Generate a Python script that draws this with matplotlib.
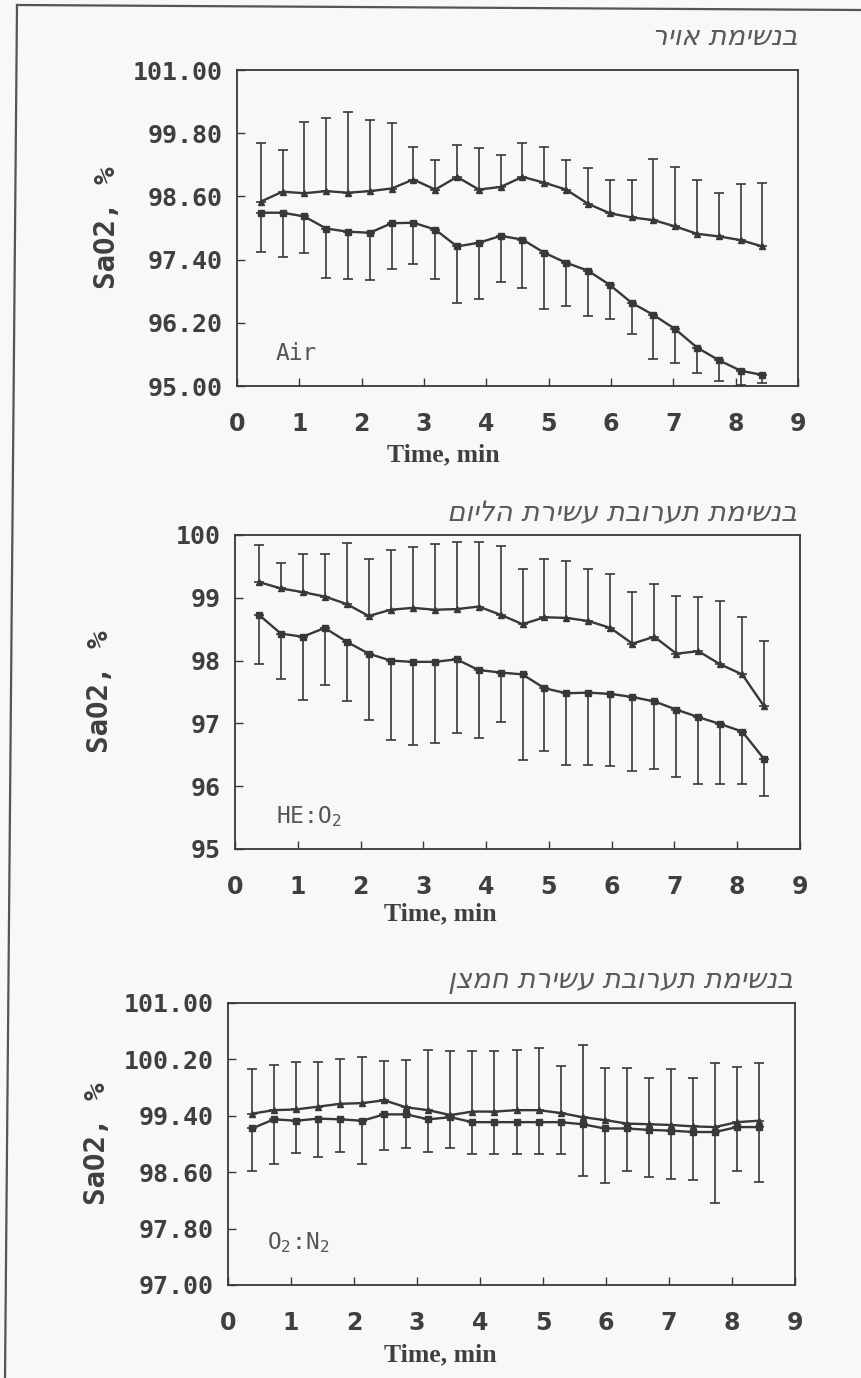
import numpy as np
import matplotlib
matplotlib.use("Agg")
import matplotlib.pyplot as plt
from matplotlib.lines import Line2D

# pedici nelle etichette dei gas con lo stesso carattere monospazio
plt.rcParams.update({"mathtext.fontset": "custom",
                     "mathtext.rm": "DejaVu Sans Mono",
                     "mathtext.it": "DejaVu Sans Mono"})

# Tempi di misura (min), 24 punti per pannello
time_min = [0.38, 0.73, 1.08, 1.43, 1.78, 2.13, 2.48, 2.83, 3.18, 3.53, 3.88, 4.23,
            4.58, 4.93, 5.28, 5.63, 5.98, 6.33, 6.68, 7.03, 7.38, 7.73, 8.08, 8.43]

# --- Pannello 1: Air ---
air_upper = [98.50, 98.69, 98.66, 98.70, 98.67, 98.70, 98.75, 98.92, 98.73, 98.97, 98.73, 98.78,
             98.97, 98.86, 98.73, 98.46, 98.28, 98.20, 98.15, 98.03, 97.89, 97.84, 97.77, 97.65]
air_upper_sd = [1.11, 0.79, 1.36, 1.38, 1.54, 1.36, 1.24, 0.62, 0.57, 0.61, 0.78, 0.61,
                0.64, 0.67, 0.57, 0.67, 0.64, 0.72, 1.16, 1.13, 1.03, 0.83, 1.06, 1.20]
air_lower = [98.29, 98.29, 98.22, 97.99, 97.93, 97.91, 98.09, 98.10, 97.97, 97.65, 97.72, 97.85,
             97.78, 97.53, 97.34, 97.19, 96.92, 96.58, 96.35, 96.08, 95.73, 95.49, 95.29, 95.21]
air_lower_sd = [0.74, 0.85, 0.69, 0.93, 0.90, 0.90, 0.86, 0.78, 0.94, 1.08, 1.07, 0.87,
                0.91, 1.06, 0.83, 0.86, 0.65, 0.59, 0.84, 0.64, 0.48, 0.39, 0.27, 0.15]

# --- Pannello 2: HE:O2 ---
he_upper = [99.25, 99.15, 99.09, 99.02, 98.90, 98.71, 98.81, 98.84, 98.81, 98.82, 98.86, 98.73,
            98.58, 98.69, 98.68, 98.63, 98.52, 98.27, 98.38, 98.11, 98.15, 97.94, 97.78, 97.27]
he_upper_sd = [0.59, 0.40, 0.61, 0.68, 0.98, 0.90, 0.95, 0.97, 1.04, 1.07, 1.03, 1.10,
               0.88, 0.92, 0.91, 0.83, 0.86, 0.82, 0.84, 0.92, 0.86, 1.01, 0.92, 1.05]
he_lower = [98.73, 98.43, 98.38, 98.52, 98.30, 98.11, 98.00, 97.98, 97.98, 98.02, 97.85, 97.81,
            97.78, 97.56, 97.48, 97.49, 97.47, 97.42, 97.35, 97.22, 97.10, 96.99, 96.87, 96.43]
he_lower_sd = [0.78, 0.73, 1.01, 0.91, 0.95, 1.05, 1.26, 1.32, 1.30, 1.17, 1.08, 0.78,
               1.36, 1.00, 1.14, 1.16, 1.15, 1.17, 1.07, 1.07, 1.07, 0.96, 0.84, 0.58]

# --- Pannello 3: O2:N2 ---
on_upper = [99.43, 99.48, 99.49, 99.53, 99.57, 99.58, 99.62, 99.52, 99.48, 99.41, 99.46, 99.46,
            99.48, 99.48, 99.44, 99.38, 99.34, 99.29, 99.28, 99.27, 99.25, 99.24, 99.31, 99.33]
on_upper_sd = [0.64, 0.64, 0.67, 0.63, 0.64, 0.65, 0.56, 0.67, 0.86, 0.91, 0.86, 0.86,
               0.86, 0.88, 0.67, 1.02, 0.74, 0.79, 0.65, 0.79, 0.68, 0.91, 0.78, 0.82]
on_lower = [99.22, 99.35, 99.33, 99.36, 99.35, 99.33, 99.42, 99.42, 99.35, 99.38, 99.31, 99.31,
            99.31, 99.31, 99.31, 99.28, 99.22, 99.22, 99.20, 99.19, 99.17, 99.17, 99.24, 99.24]
on_lower_sd = [0.61, 0.64, 0.46, 0.54, 0.46, 0.62, 0.50, 0.47, 0.46, 0.44, 0.45, 0.45,
               0.45, 0.45, 0.45, 0.74, 0.77, 0.61, 0.67, 0.68, 0.68, 1.00, 0.62, 0.78]

# Etichette
titles_he = ["בנשימת אויר", "בנשימת תערובת עשירת הליום", "בנשימת תערובת עשירת חמצן"]
gas_labels = ["Air", "HE:O$_2$", "O$_2$:N$_2$"]
yticks_1 = [95.0, 96.2, 97.4, 98.6, 99.8, 101.0]
yticks_2 = [95, 96, 97, 98, 99, 100]
yticks_3 = [97.0, 97.8, 98.6, 99.4, 100.2, 101.0]
xticks = [0, 1, 2, 3, 4, 5, 6, 7, 8, 9]

INK = "#383838"
TXT = "#3f3f3f"
BG = "#f8f8f6"
W, H = 861, 1378

fig = plt.figure(figsize=(8.61, 13.78), dpi=100, facecolor=BG)

# bordo della pagina scansionata
fig.add_artist(Line2D([17 / W, 5 / W], [1 - 5 / H, 0], transform=fig.transFigure,
                      color="#555555", lw=1.6))
fig.add_artist(Line2D([17 / W, 1.0], [1 - 5 / H, 1 - 10 / H], transform=fig.transFigure,
                      color="#555555", lw=1.6))

panels = [
    dict(rect=[237 / W, 1 - 386 / H, 561 / W, 316 / H], ylim=(95, 101), yticks=yticks_1,
         fmt="{:.2f}", up=air_upper, up_sd=air_upper_sd, lo=air_lower, lo_sd=air_lower_sd,
         lab_xy=(0.62, 95.62), ylab_x=107, xlab=(443, 455), title=(797, 37)),
    dict(rect=[235 / W, 1 - 849 / H, 565 / W, 314 / H], ylim=(95, 100), yticks=yticks_2,
         fmt="{:.0f}", up=he_upper, up_sd=he_upper_sd, lo=he_lower, lo_sd=he_lower_sd,
         lab_xy=(0.66, 95.52), ylab_x=100, xlab=(440, 914), title=(797, 513)),
    dict(rect=[228 / W, 1 - 1285 / H, 567 / W, 282 / H], ylim=(97, 101), yticks=yticks_3,
         fmt="{:.2f}", up=on_upper, up_sd=on_upper_sd, lo=on_lower, lo_sd=on_lower_sd,
         lab_xy=(0.62, 97.6), ylab_x=97, xlab=(440, 1355), title=(793, 980)),
]

for i, p in enumerate(panels):
    ax = fig.add_axes(p["rect"])
    ax.set_facecolor(BG)
    ax.set_xlim(0, 9)
    ax.set_ylim(*p["ylim"])

    # serie superiore: barre solo verso l'alto
    ax.errorbar(time_min, p["up"], yerr=[np.zeros(len(time_min)), p["up_sd"]],
                fmt="-^", color=INK, ms=4, lw=1.7, elinewidth=1.2, capsize=3.5, capthick=1.2)
    # serie inferiore: barre solo verso il basso
    ax.errorbar(time_min, p["lo"], yerr=[p["lo_sd"], np.zeros(len(time_min))],
                fmt="-s", color=INK, ms=4, lw=1.7, elinewidth=1.2, capsize=3.5, capthick=1.2)

    ax.text(p["lab_xy"][0], p["lab_xy"][1], gas_labels[i], fontsize=16.5, color="#555555",
            family="DejaVu Sans Mono", va="center", ha="left")

    ax.set_xticks(xticks)
    ax.set_xticklabels([str(t) for t in xticks])
    ax.set_yticks(p["yticks"])
    ax.set_yticklabels([p["fmt"].format(t) for t in p["yticks"]])
    ax.tick_params(direction="in", length=6, width=1.0, color=INK, labelcolor=TXT)
    ax.tick_params(axis="x", pad=19, labelsize=17)
    ax.tick_params(axis="y", pad=10, labelsize=18)
    for lbl in ax.get_xticklabels():
        lbl.set_family("DejaVu Sans")
        lbl.set_fontweight("bold")
    for lbl in ax.get_yticklabels():
        lbl.set_family("DejaVu Sans Mono")
        lbl.set_fontweight("bold")
    for sp in ax.spines.values():
        sp.set_color(INK)
        sp.set_linewidth(1.3)

    fig.text(p["xlab"][0] / W, 1 - p["xlab"][1] / H, "Time, min", fontsize=18.5,
             fontweight="bold", family="Liberation Serif", color=TXT,
             ha="center", va="center")

    fig.text(p["ylab_x"] / W, p["rect"][1] + p["rect"][3] / 2, "SaO2, %", rotation=90,
             fontsize=21, fontweight="bold", family="DejaVu Sans Mono", color=TXT,
             ha="center", va="center")

    # matplotlib non gestisce il bidi: si inverte la stringa ebraica
    fig.text(p["title"][0] / W, 1 - p["title"][1] / H, titles_he[i][::-1], fontsize=19.8,
             style="italic", color="#5a5a5a", ha="right", va="center", family="DejaVu Sans")

fig.savefig("out.png", dpi=100, facecolor=BG)
